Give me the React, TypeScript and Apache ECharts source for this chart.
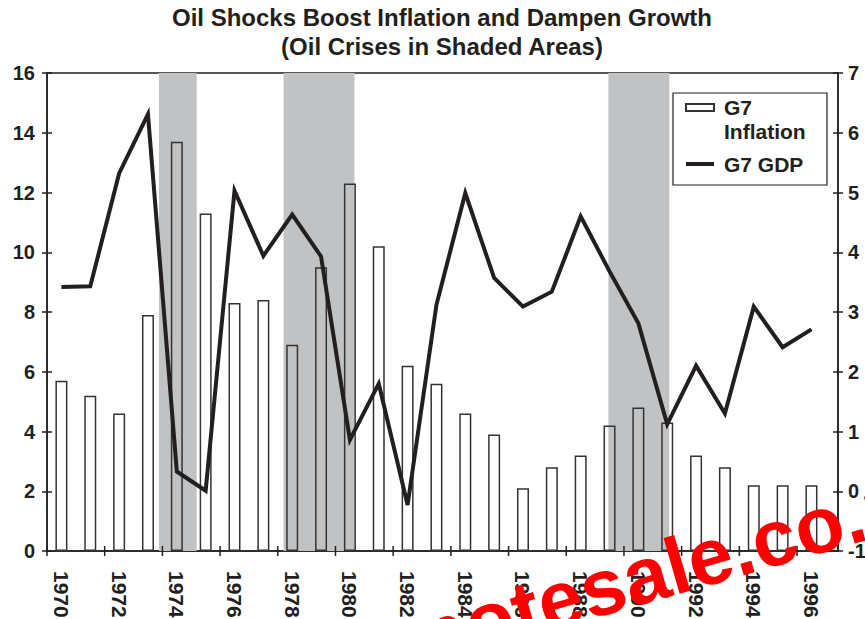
import React, { useEffect, useRef } from 'react';
import * as echarts from 'echarts';

const years = [1970, 1971, 1972, 1973, 1974, 1975, 1976, 1977, 1978, 1979, 1980, 1981, 1982, 1983, 1984, 1985, 1986, 1987, 1988, 1989, 1990, 1991, 1992, 1993, 1994, 1995, 1996];
const inflation = [5.7, 5.2, 4.6, 7.9, 13.7, 11.3, 8.3, 8.4, 6.9, 9.5, 12.3, 10.2, 6.2, 5.6, 4.6, 3.9, 2.1, 2.8, 3.2, 4.2, 4.8, 4.3, 3.2, 2.8, 2.2, 2.2, 2.2];
const gdp = [3.42, 3.43, 5.32, 6.31, 0.33, 0.01, 5.03, 3.94, 4.63, 3.93, 0.86, 1.8, -0.23, 3.12, 4.99, 3.57, 3.09, 3.34, 4.6, 3.68, 2.81, 1.12, 2.1, 1.3, 3.09, 2.41, 2.71];
const crisisStart = [1973.38, 1977.7, 1988.96];
const crisisEnd = [1974.69, 1980.16, 1991.07];
const xTickValues = [1969.5, 1971.5, 1973.5, 1975.5, 1977.5, 1979.5, 1981.5, 1983.5, 1985.5, 1987.5, 1989.5, 1991.5, 1993.5, 1995.5];
const xLabelValues = [1970, 1972, 1974, 1976, 1978, 1980, 1982, 1984, 1986, 1988, 1990, 1992, 1994, 1996];
const seriesNames = ['G7 Inflation', 'G7 GDP'];
const titleText = 'Oil Shocks Boost Inflation and Dampen Growth\n(Oil Crises in Shaded Areas)';
const watermark = 'notesale.co.uk';

const FONT = '"Liberation Sans", Arial, Helvetica, sans-serif';
const INK = '#231f20';
const X_MIN = 1969.5;
const X_MAX = 1996.92;

export default function App() {
  const ref = useRef<HTMLDivElement>(null);
  useEffect(() => {
    if (!ref.current) return;
    const chart = echarts.init(ref.current, null, { renderer: 'svg' });
    const axisLineStyle = { color: INK, width: 1.5 };
    const labelStyle = { fontSize: 20, fontWeight: 'bold', color: INK, fontFamily: FONT };
    const option: any = {
      animation: false,
      backgroundColor: '#ffffff',
      title: {
        text: titleText,
        left: 442,
        top: 3,
        textAlign: 'center',
        padding: 0,
        textStyle: { fontSize: 24, fontWeight: 'bold', color: INK, fontFamily: FONT, lineHeight: 29 },
      },
      grid: {
        left: 47, right: 27, top: 73, bottom: 68,
        show: true, borderColor: INK, borderWidth: 1.5, backgroundColor: 'transparent',
        containLabel: false,
        outerBoundsMode: 'none',
      },
      legend: {
        orient: 'vertical',
        left: 685,
        top: 71.5,
        padding: 0,
        itemWidth: 28,
        itemHeight: 7,
        itemGap: 8.5,
        selectedMode: false,
        textStyle: { fontSize: 21, fontWeight: 'bold', color: INK, fontFamily: FONT, lineHeight: 24, padding: [0, 0, 0, 5] },
        data: [
          { name: seriesNames[0], icon: 'rect' },
          { name: seriesNames[1], icon: 'path://M0,0 L28,0 L28,4 L0,4 Z', itemStyle: { color: INK } },
        ],
        formatter: (n: string) => (n === seriesNames[0] ? '\nG7\nInflation' : n),
      },
      xAxis: [
        {
          type: 'value', min: X_MIN, max: X_MAX, position: 'bottom',
          splitLine: { show: false },
          axisLine: { show: true, onZero: false, lineStyle: axisLineStyle },
          axisTick: { show: false },
          axisLabel: {
            show: true, customValues: xLabelValues, rotate: -90, margin: 20,
            fontSize: 21, fontWeight: 'bold', color: INK, fontFamily: FONT,
            formatter: (v: number) => String(Math.round(v)),
          },
        },
      ],
      yAxis: [
        {
          type: 'value', position: 'left', min: 0, max: 16, interval: 2,
          splitLine: { show: false },
          axisLine: { show: true, onZero: false, lineStyle: axisLineStyle },
          axisTick: { show: true, length: 5, lineStyle: axisLineStyle },
          axisLabel: { margin: 12, ...labelStyle },
        },
        {
          type: 'value', position: 'right', min: -1, max: 7, interval: 1,
          splitLine: { show: false },
          axisLine: { show: true, onZero: false, lineStyle: axisLineStyle },
          axisTick: { show: true, length: 5, lineStyle: axisLineStyle },
          axisLabel: { margin: 10, ...labelStyle },
        },
        {
          type: 'value', position: 'left', min: 0, max: 16, interval: 2,
          splitLine: { show: false }, axisLine: { show: false }, axisLabel: { show: false },
          axisTick: { show: true, inside: true, length: 5, lineStyle: axisLineStyle },
        },
        {
          type: 'value', position: 'right', min: -1, max: 7, interval: 1,
          splitLine: { show: false }, axisLine: { show: false }, axisLabel: { show: false },
          axisTick: { show: true, inside: true, length: 5, lineStyle: axisLineStyle },
        },
      ],
      series: [
        {
          type: 'bar',
          name: seriesNames[0],
          xAxisIndex: 0,
          yAxisIndex: 0,
          barWidth: 12,
          z: 2,
          data: years.map((y, i) => [y, inflation[i]]),
          itemStyle: { color: 'rgba(255,255,255,0)', borderColor: '#333333', borderWidth: 1.5 },
          markArea: {
            silent: true,
            z: 1,
            itemStyle: { color: '#c1c2c4' },
            data: crisisStart.map((s, i) => [{ xAxis: s }, { xAxis: crisisEnd[i] }]),
          },
        },
        {
          type: 'line',
          name: seriesNames[1],
          xAxisIndex: 0,
          yAxisIndex: 1,
          z: 3,
          symbol: 'none',
          data: years.map((y, i) => [y, gdp[i]]),
          lineStyle: { color: INK, width: 4, join: 'miter', cap: 'butt' },
          itemStyle: { color: INK },
        },
        {
          type: 'custom',
          name: 'xticks',
          xAxisIndex: 0,
          yAxisIndex: 0,
          clip: false,
          silent: true,
          z: 4,
          data: xTickValues.map((v) => [v, 0]),
          renderItem: (params: any, api: any) => {
            const p = api.coord([api.value(0), api.value(1)]);
            return {
              type: 'line',
              shape: { x1: p[0], y1: p[1] - 5, x2: p[0], y2: p[1] + 5 },
              style: { stroke: INK, lineWidth: 1.5 },
            };
          },
        },
      ],
      graphic: [
        {
          type: 'rect',
          z: 3,
          shape: { x: 673, y: 93, width: 154, height: 92 },
          style: { fill: '#ffffff', stroke: INK, lineWidth: 1.2 },
        },
        {
          type: 'text',
          z: 100,
          x: 419,
          y: 640,
          rotation: (16 * Math.PI) / 180,
          style: {
            text: watermark,
            fill: '#ff0000',
            font: `bold 80px ${FONT}`,
            textAlign: 'left',
            textVerticalAlign: 'middle',
          },
        },
      ],
    };
    chart.setOption(option);
    return () => chart.dispose();
  }, []);
  return <div ref={ref} style={{ position: 'absolute', left: 0, top: 0, width: 865, height: 619 }} />;
}
